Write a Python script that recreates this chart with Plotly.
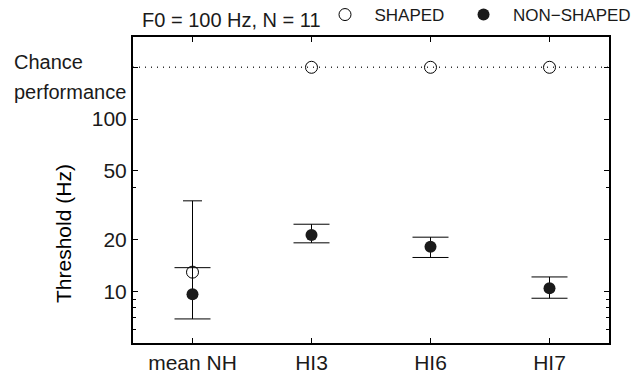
import math
import plotly.graph_objects as go

# ---- data ----
categories = ["mean NH", "HI3", "HI6", "HI7"]
shaped = [12.9, 200, 200, 200]
shaped_upper = [33.5, None, None, None]
non_shaped = [9.6, 21.2, 18.1, 10.4]
non_shaped_upper = [13.7, 24.5, 20.6, 12.1]
non_shaped_lower = [6.9, 19.1, 15.7, 9.1]
chance_level = 200
y_tick_vals = [10, 20, 50, 100, 200]
y_tick_text = ["10", "20", "50", "100", ""]
y_minor_vals = [6, 7, 8, 9, 40]
y_range = [5, 300]

# ---- geometry (pixels) ----
W, H = 633, 373
PL, PR, PT, PB = 133, 609, 37, 343
FONT = "Liberation Sans, Arial, Helvetica, sans-serif"
INK = "#1a1a1a"
NB = "\u00a0"

def px(x):
    return x / W

def py(y):
    return 1 - y / H

xpos = list(range(1, len(categories) + 1))
x_range = [0.5, len(categories) + 0.5]
units_per_px = (x_range[1] - x_range[0]) / (PR - PL)
shaped_cap_half = 9.5 * units_per_px

fig = go.Figure()

# chance performance line
fig.add_trace(go.Scatter(
    x=x_range, y=[chance_level, chance_level], mode="lines",
    line=dict(color="#333333", width=1.5, dash="1px,5px"),
    showlegend=False, hoverinfo="skip"))

# shaped one-sided error bar (upper only)
ex, ey = [], []
for xi, yi, up in zip(xpos, shaped, shaped_upper):
    if up is None:
        continue
    ex += [xi, xi, None, xi - shaped_cap_half, xi + shaped_cap_half, None]
    ey += [yi, up, None, up, up, None]
fig.add_trace(go.Scatter(x=ex, y=ey, mode="lines",
                         line=dict(color="black", width=1),
                         showlegend=False, hoverinfo="skip"))

# shaped markers
fig.add_trace(go.Scatter(
    x=xpos, y=shaped, mode="markers", name=NB * 2 + "SHAPED" + NB * 3,
    marker=dict(symbol="circle-open", size=12, color="black",
                line=dict(width=1, color="black"))))

# non-shaped markers with asymmetric error bars
fig.add_trace(go.Scatter(
    x=xpos, y=non_shaped, mode="markers", name=NB * 2 + "NON\u2212SHAPED",
    marker=dict(symbol="circle", size=12, color=INK),
    error_y=dict(type="data", symmetric=False,
                 array=[u - v for u, v in zip(non_shaped_upper, non_shaped)],
                 arrayminus=[v - l for v, l in zip(non_shaped, non_shaped_lower)],
                 color="black", thickness=1, width=18)))

axis_common = dict(showline=True, linewidth=2, linecolor="black", mirror="allticks",
                   ticks="inside", ticklen=5, tickwidth=1, tickcolor="black",
                   showgrid=False, zeroline=False,
                   tickfont=dict(family=FONT, size=21, color=INK))

fig.update_layout(
    width=W, height=H,
    margin=dict(l=0, r=0, t=0, b=0, autoexpand=False),
    paper_bgcolor="white", plot_bgcolor="white",
    font=dict(family=FONT, color=INK),
    xaxis=dict(domain=[px(PL), px(PR)], range=x_range,
               tickmode="array", tickvals=xpos, ticktext=categories,
               **axis_common),
    yaxis=dict(domain=[py(PB), py(PT)], type="log",
               range=[math.log10(y_range[0]), math.log10(y_range[1])],
               tickmode="array", tickvals=y_tick_vals, ticktext=y_tick_text,
               minor=dict(tickmode="array", tickvals=y_minor_vals, ticks="inside",
                          ticklen=3, tickcolor="black", tickwidth=1, showgrid=False),
               **axis_common),
    showlegend=True,
    legend=dict(orientation="h", x=px(325), y=py(15), xanchor="left", yanchor="middle",
                font=dict(family=FONT, size=17, color=INK), bgcolor="rgba(0,0,0,0)",
                itemclick=False),
)

ann = dict(showarrow=False, xref="paper", yref="paper", font=dict(family=FONT, size=20, color=INK))
fig.add_annotation(text="F0 = 100 Hz, N = 11", x=px(231), y=py(20),
                   xanchor="center", yanchor="middle", **ann)
fig.add_annotation(text="Chance", x=px(12), y=py(62), xanchor="left", yanchor="middle", **ann)
fig.add_annotation(text="performance", x=px(12), y=py(92), xanchor="left", yanchor="middle", **ann)
fig.add_annotation(text="Threshold (Hz)", x=px(63), y=py(234), textangle=-90,
                   xanchor="center", yanchor="middle",
                   **{**ann, "font": dict(family=FONT, size=21, color="black")})

fig.write_html("out.html")
